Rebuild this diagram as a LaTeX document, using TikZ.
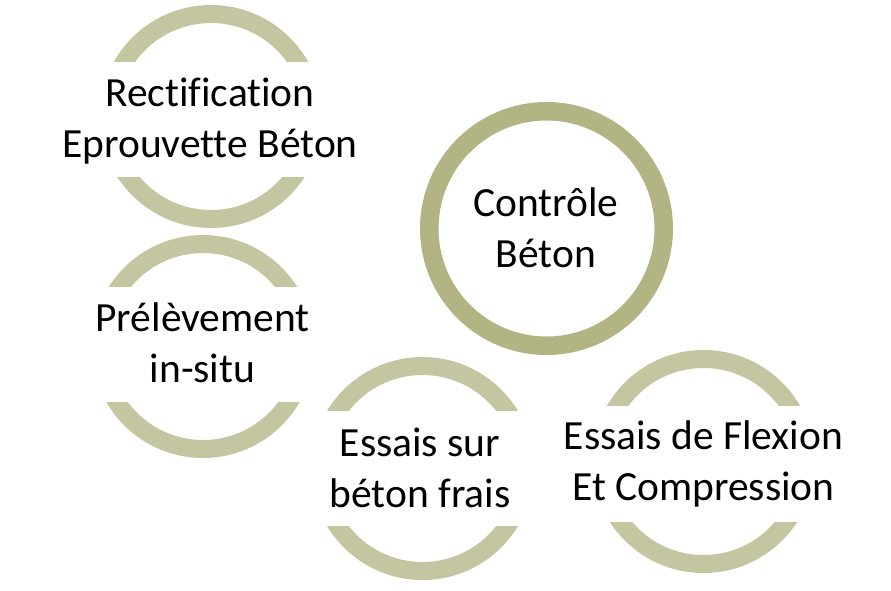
\documentclass[tikz,border=0pt]{standalone}
\usepackage{fontspec}
\setmainfont[Ligatures=NoCommon]{Carlito}
\definecolor{ringlight}{HTML}{C3C6A0}
\definecolor{ringdark}{HTML}{B2B583}
\begin{document}
\begin{tikzpicture}[x=1pt,y=-1pt,
  lbl/.style={font=\fontsize{41.5}{51}\selectfont, align=center, anchor=base, inner sep=0pt, text=black},
  lightring/.style={draw=ringlight, line width=18},
  darkring/.style={draw=ringdark, line width=18.5}]
\useasboundingbox[fill=white] (0,0) rectangle (891,590);
% central ring
\draw[darkring] (546.5,228.5) circle[radius=117.25];
% outer rings, cut by a horizontal band for the text
\foreach \cx/\cy/\ct/\cb in {211/116.5/61/177, 203/346.5/286/402, 422.5/468.5/410/526, 703.5/461.5/405/522}{
  \begin{scope}
    \clip (\cx-120,\cy-120) rectangle (\cx+120,\ct);
    \draw[lightring] (\cx,\cy) circle[radius=102.5];
  \end{scope}
  \begin{scope}
    \clip (\cx-120,\cb) rectangle (\cx+120,\cy+120);
    \draw[lightring] (\cx,\cy) circle[radius=102.5];
  \end{scope}
}
\node[lbl] (ctrl) at (546,267) {Contrôle\\Béton};
\node[lbl] (rect) at (210,157.5) {Rectification\\Eprouvette Béton};
\node[lbl] (prel) at (202.5,382) {Prélèvement\\in-situ};
\node[lbl] (frais) at (420,507.5) {Essais sur\\béton frais};
\node[lbl] (flex) at (703.5,500) {Essais de Flexion\\Et Compression};
\end{tikzpicture}
\end{document}
